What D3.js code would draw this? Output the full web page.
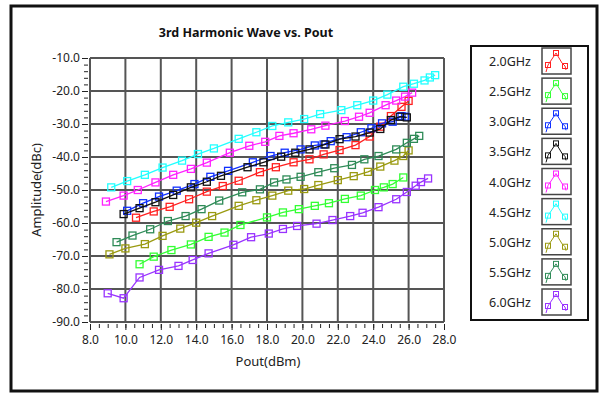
<!DOCTYPE html>
<html>
<head>
<meta charset="utf-8">
<script src="https://cdn.jsdelivr.net/npm/d3@7"></script>
<style>
  body { margin: 0; background: #fff; }
  svg text { font-family: "Noto Sans", "DejaVu Sans", sans-serif; fill: #222; }
  .grid line { stroke: #555; stroke-width: 2; }
  .series path { fill: none; stroke-width: 1.3; }
  .series rect { fill: none; stroke-width: 1.3; }
</style>
</head>
<body>
<svg id="chart" width="603" height="396"></svg>
<script>
// legend categories and series colours
var freqs = ["2.0GHz", "2.5GHz", "3.0GHz", "3.5GHz", "4.0GHz", "4.5GHz", "5.0GHz", "5.5GHz", "6.0GHz"];
var colors = ["#ff2020", "#33ff33", "#1030ff", "#111111", "#ff22ff", "#22ffff", "#9a9a10", "#2e8b57", "#9933ff"];

var xTicks = [8, 10, 12, 14, 16, 18, 20, 22, 24, 26, 28];
var yTicks = [-10, -20, -30, -40, -50, -60, -70, -80, -90];

// Pout (dBm) / amplitude (dBc) for each frequency
var pout20 = [10.6, 11.6, 12.5, 13.6, 14.6, 15.5, 16.4, 17.6, 18.5, 19.5, 20.4, 21.2, 22.1, 23.0, 23.8, 24.4, 25.0, 25.6, 26.0];
var amp20  = [-58.4, -56.5, -55.1, -52.8, -50.5, -48.8, -47.2, -44.6, -43.1, -41.6, -40.7, -39.2, -37.9, -36.4, -33.8, -30.8, -27.6, -24.8, -23.0];

var pout25 = [10.8, 11.6, 12.6, 13.7, 14.7, 15.6, 16.5, 18.0, 18.9, 19.8, 20.7, 21.5, 22.4, 23.3, 24.1, 24.6, 25.1, 25.7];
var amp25  = [-72.5, -70.2, -68.2, -66.5, -64.2, -62.9, -60.6, -58.3, -56.8, -55.8, -54.8, -54.0, -52.7, -51.7, -50.0, -49.2, -48.2, -46.2];

var pout30 = [10.1, 11.0, 11.9, 12.9, 13.9, 14.8, 15.8, 17.2, 18.2, 19.0, 19.9, 20.7, 21.2, 21.6, 22.5, 23.3, 23.9, 24.5, 25.1, 25.6, 25.8];
var amp30  = [-56.3, -54.0, -52.0, -50.2, -48.2, -46.0, -44.2, -41.6, -39.7, -38.7, -37.7, -36.5, -36.2, -35.2, -34.0, -32.5, -31.3, -29.8, -29.3, -27.6, -27.8];

var pout35 = [9.9, 10.8, 11.7, 12.7, 13.7, 14.6, 15.4, 16.9, 17.8, 18.8, 19.6, 20.4, 21.3, 22.1, 23.0, 23.8, 24.4, 25.0, 25.5, 25.9];
var amp35  = [-57.3, -55.5, -53.7, -51.5, -49.2, -47.5, -45.7, -43.1, -41.6, -39.9, -38.7, -37.7, -36.2, -34.6, -33.8, -32.6, -31.5, -28.8, -27.8, -28.0];

var pout40 = [8.9, 9.9, 10.7, 11.7, 12.7, 13.7, 14.6, 15.9, 17.0, 17.9, 18.7, 19.5, 20.5, 21.3, 22.4, 23.2, 23.8, 24.7, 25.3, 25.8, 26.2];
var amp40  = [-53.5, -51.7, -50.0, -47.7, -45.4, -43.6, -41.7, -38.7, -36.6, -35.4, -33.6, -32.8, -31.6, -30.5, -29.1, -27.8, -26.6, -24.3, -22.9, -21.7, -20.5];

var pout45 = [9.2, 10.1, 11.1, 12.1, 13.2, 14.1, 15.0, 16.4, 17.4, 18.3, 19.2, 20.1, 21.0, 22.2, 23.1, 24.0, 24.8, 25.7, 26.3, 26.9, 27.2, 27.5];
var amp45  = [-49.2, -47.3, -45.4, -43.2, -41.1, -39.1, -37.4, -34.5, -32.5, -30.6, -29.5, -28.5, -27.0, -25.8, -24.3, -22.9, -21.1, -18.7, -17.8, -16.8, -15.9, -15.2];

var pout50 = [9.1, 10.0, 11.1, 12.1, 13.1, 14.0, 14.9, 16.4, 17.4, 18.3, 19.2, 20.1, 20.9, 22.0, 22.9, 23.7, 24.4, 25.2, 25.7, 26.0];
var amp50  = [-69.5, -67.7, -66.4, -63.9, -61.7, -59.9, -57.9, -54.8, -53.1, -51.7, -50.2, -49.7, -48.5, -47.0, -45.8, -44.5, -42.9, -41.1, -39.7, -38.0];

var pout55 = [9.5, 10.4, 11.4, 12.4, 13.4, 14.3, 15.3, 16.6, 17.6, 18.4, 19.1, 19.9, 20.9, 21.8, 22.8, 23.5, 24.3, 25.3, 25.9, 26.3, 26.6];
var amp55  = [-65.8, -63.8, -61.9, -59.4, -57.9, -55.8, -53.2, -50.7, -49.8, -47.7, -46.8, -46.0, -44.6, -43.4, -42.4, -40.7, -39.7, -37.7, -35.7, -34.5, -33.6];

var pout60 = [9.0, 9.9, 10.8, 11.9, 13.0, 13.8, 14.7, 16.1, 17.1, 18.1, 18.9, 19.7, 20.8, 21.7, 22.7, 23.4, 24.3, 25.3, 25.9, 26.4, 26.7, 27.1];
var amp60  = [-81.3, -82.8, -76.5, -74.2, -73.0, -71.2, -69.2, -66.6, -64.3, -63.2, -61.8, -60.9, -60.2, -59.1, -57.9, -56.9, -55.2, -52.8, -50.6, -48.7, -47.6, -46.5];

var pouts = [pout20, pout25, pout30, pout35, pout40, pout45, pout50, pout55, pout60];
var amps  = [amp20, amp25, amp30, amp35, amp40, amp45, amp50, amp55, amp60];

var svg = d3.select("#chart");

var x = d3.scaleLinear().domain([8, 28]).range([90, 444]);
var y = d3.scaleLinear().domain([-90, -10]).range([322, 58]);

// outer frame
svg.append("rect")
  .attr("x", 11).attr("y", 6).attr("width", 586).attr("height", 385)
  .attr("fill", "none").attr("stroke", "#111").attr("stroke-width", 3);

svg.append("text")
  .attr("x", 246).attr("y", 37)
  .attr("text-anchor", "middle")
  .attr("font-size", 12.5).attr("font-weight", "bold")
  .style("fill", "#111")
  .text("3rd Harmonic Wave vs. Pout");

// grid
var grid = svg.append("g").attr("class", "grid");
grid.selectAll(".vx").data(xTicks).enter().append("line")
  .attr("x1", d => x(d)).attr("x2", d => x(d))
  .attr("y1", y(-10)).attr("y2", y(-90));
grid.selectAll(".hy").data(yTicks).enter().append("line")
  .attr("x1", x(8)).attr("x2", x(28))
  .attr("y1", d => y(d)).attr("y2", d => y(d));

// axes (plain hyphen for negatives, like the original)
var fmt = d => d.toFixed(1);
var xAxis = d3.axisBottom(x).tickValues(xTicks).tickFormat(fmt).tickSize(6).tickPadding(5);
var xMinor = d3.axisBottom(x).tickValues(d3.range(8, 28.01, 0.5)).tickFormat("").tickSize(4);
var yAxis = d3.axisLeft(y).tickValues(yTicks).tickFormat(fmt).tickSize(6).tickPadding(2);
var yMinor = d3.axisLeft(y).tickValues(d3.range(-90, -9.9, 2)).tickFormat("").tickSize(4);

function styleAxis(g) {
  g.select(".domain").remove();
  g.selectAll("line").attr("stroke", "#222");
  g.selectAll("text").attr("font-size", 12).style("fill", "#222")
    .style("font-family", "'Noto Sans', sans-serif");
}
svg.append("g").attr("transform", "translate(0,324)").call(xMinor).call(styleAxis);
svg.append("g").attr("transform", "translate(0,324)").call(xAxis).call(styleAxis);
svg.append("g").attr("transform", "translate(88,0)").call(yMinor).call(styleAxis);
svg.append("g").attr("transform", "translate(88,0)").call(yAxis).call(styleAxis);

svg.append("text")
  .attr("x", 268).attr("y", 366)
  .attr("text-anchor", "middle").attr("font-size", 13)
  .text("Pout(dBm)");
svg.append("text")
  .attr("transform", "translate(41,190) rotate(-90)")
  .attr("text-anchor", "middle").attr("font-size", 13)
  .text("Amplitude(dBc)");

// series
var line = d3.line().x(d => x(d[0])).y(d => y(d[1]));
var seriesData = freqs.map((f, i) => pouts[i].map((p, j) => [p, amps[i][j]]));

var series = svg.selectAll(".series").data(seriesData).enter().append("g")
  .attr("class", "series")
  .attr("stroke", (d, i) => colors[i]);
series.append("path").attr("d", line);
series.selectAll("rect").data(d => d).enter().append("rect")
  .attr("x", d => x(d[0]) - 3.5).attr("y", d => y(d[1]) - 3.5)
  .attr("width", 7).attr("height", 7);

// legend
var lg = svg.append("g");
lg.append("rect")
  .attr("x", 471).attr("y", 46).attr("width", 117).attr("height", 274)
  .attr("fill", "#fff").attr("stroke", "#111").attr("stroke-width", 2);
var rowY = d3.scalePoint().domain(freqs).range([61, 302]);
var item = lg.selectAll(".item").data(freqs).enter().append("g")
  .attr("transform", d => "translate(0," + rowY(d) + ")");
item.append("text")
  .attr("x", 531).attr("y", 5)
  .attr("text-anchor", "end").attr("font-size", 12.5)
  .text(d => d);
item.append("rect")
  .attr("x", 542).attr("y", -13).attr("width", 29).attr("height", 26)
  .attr("fill", "#fff").attr("stroke", "#444").attr("stroke-width", 1.5);
var icon = [[4, 11], [6, 4], [14, -8], [20, 2], [23, 5], [24, 9]];
item.append("path")
  .attr("transform", "translate(542,0)")
  .attr("fill", "none").attr("stroke-width", 1)
  .attr("stroke", (d, i) => colors[i])
  .attr("d", d3.line()(icon));
item.selectAll(".m").data((d, i) => [[6, 4, i], [14, -8, i], [23, 5, i]]).enter().append("rect")
  .attr("x", d => 542 + d[0] - 2.5).attr("y", d => d[1] - 2.5)
  .attr("width", 5).attr("height", 5)
  .attr("fill", "none").attr("stroke-width", 1)
  .attr("stroke", d => colors[d[2]]);
</script>
</body>
</html>
